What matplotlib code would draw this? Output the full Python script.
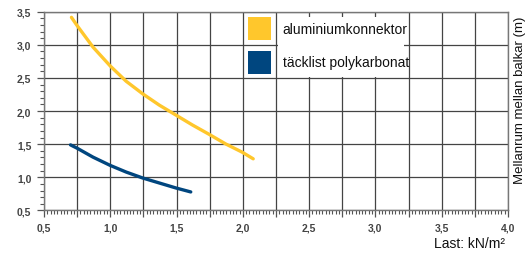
import matplotlib
matplotlib.use("Agg")
import matplotlib.pyplot as plt
from matplotlib import font_manager
from matplotlib.patches import Rectangle
from matplotlib.ticker import MultipleLocator, FuncFormatter

# curves (load in kN/m2 -> spacing in m)
alu_load = [0.707, 0.75, 0.87, 1.0, 1.12, 1.245, 1.37, 1.495, 1.62, 1.745, 1.87, 1.995, 2.078]
alu_span = [3.415, 3.29, 2.965, 2.68, 2.45, 2.26, 2.09, 1.94, 1.79, 1.65, 1.505, 1.38, 1.28]

poly_load = [0.70, 0.75, 0.87, 1.0, 1.12, 1.245, 1.37, 1.495, 1.607]
poly_span = [1.49, 1.44, 1.305, 1.18, 1.08, 0.99, 0.915, 0.84, 0.78]

labels = ["aluminiumkonnektor", "täcklist polykarbonat"]
colors = ["#FFC72C", "#00467F"]

available = {f.name for f in font_manager.fontManager.ttflist}
narrow = "Liberation Sans Narrow" if "Liberation Sans Narrow" in available else "Liberation Sans"
plt.rcParams["font.family"] = ["Liberation Sans", "DejaVu Sans"]

fig = plt.figure(figsize=(5.3, 2.55), dpi=100)
ax = fig.add_axes([0.083, 0.1706, 0.8755, 0.7796])
ax.set_axisbelow(True)

ax.plot(alu_load, alu_span, color=colors[0], lw=2.4, solid_capstyle="round", zorder=3)
ax.plot(poly_load, poly_span, color=colors[1], lw=2.4, solid_capstyle="round", zorder=3)

ax.set_xlim(0.5, 4.0)
ax.set_ylim(0.5, 3.5)

comma = FuncFormatter(lambda v, p: ("%.1f" % v).replace(".", ",") if abs(v * 2 - round(v * 2)) < 1e-6 else "")
ax.xaxis.set_major_locator(MultipleLocator(0.25))
ax.xaxis.set_minor_locator(MultipleLocator(0.025))
ax.xaxis.set_major_formatter(comma)
ax.yaxis.set_major_locator(MultipleLocator(0.5))
ax.yaxis.set_minor_locator(MultipleLocator(0.1))
ax.yaxis.set_major_formatter(comma)

ax.grid(which="major", color="#444444", lw=0.9)
ax.tick_params(which="major", direction="out", length=5, width=0.9, color="#555555",
               labelsize=7.5, labelcolor="#444444", pad=4)
ax.tick_params(which="minor", direction="out", length=3, width=0.8, color="#555555")
for lab in ax.get_xticklabels() + ax.get_yticklabels():
    lab.set_fontweight("bold")
for s in ax.spines.values():
    s.set_color("#777777")
    s.set_linewidth(1.0)

# legend block drawn over the grid
ax.add_patch(Rectangle((2.262, 2.51), 0.95, 0.91, facecolor="white", edgecolor="none", zorder=2))
ax.add_patch(Rectangle((2.038, 3.073), 0.174, 0.347, facecolor=colors[0], edgecolor="none", zorder=2))
ax.add_patch(Rectangle((2.038, 2.56), 0.174, 0.347, facecolor=colors[1], edgecolor="none", zorder=2))
ax.text(2.30, 3.24, labels[0], fontsize=10, family=narrow, va="center", ha="left", color="#111111", zorder=4)
ax.text(2.30, 2.74, labels[1], fontsize=10, family=narrow, va="center", ha="left", color="#111111", zorder=4)

fig.text(0.982, 0.608, "Mellanrum mellan balkar (m)", rotation=90, ha="center", va="center",
         fontsize=9.5, family=narrow, color="#111111")
fig.text(0.953, 0.045, "Last: kN/m²", ha="right", va="center", fontsize=10, family=narrow, color="#111111")

fig.savefig("out.png", dpi=100)
